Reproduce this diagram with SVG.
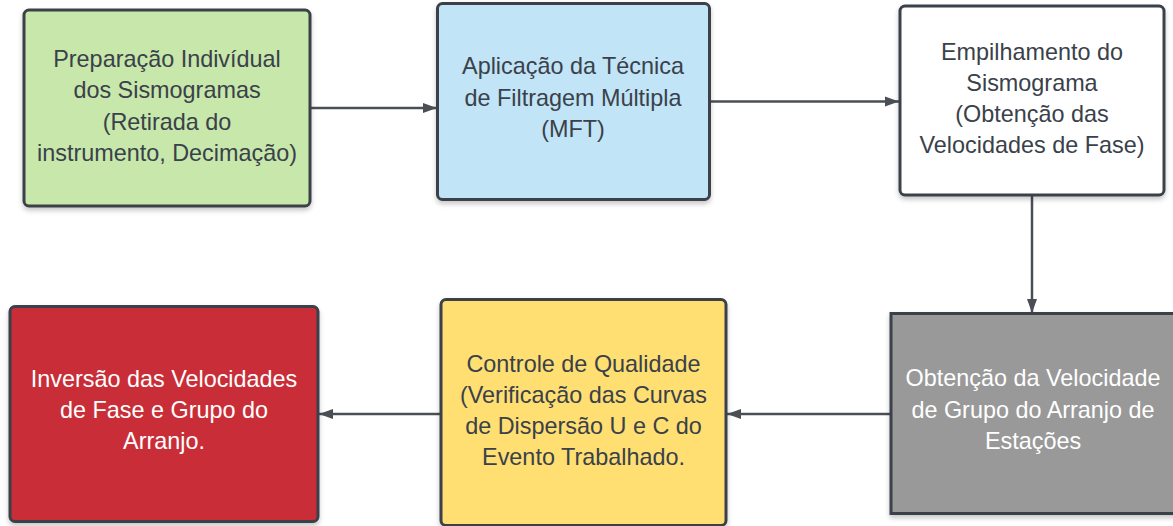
<svg xmlns="http://www.w3.org/2000/svg" width="1173" height="526" viewBox="0 0 1173 526">
<style>
  .box { stroke: #3a414a; stroke-width: 3; }
  .t { font-family: "Liberation Sans", Arial, sans-serif; font-size: 23.4px; text-anchor: middle; fill: #3a414a; }
  .w { fill: #ffffff; }
  .conn { stroke: #4a4f55; stroke-width: 2.5; fill: none; marker-end: url(#arr); }
</style>
<defs>
  <filter id="sh" x="-10%" y="-10%" width="120%" height="130%">
    <feDropShadow dx="0" dy="3" stdDeviation="2.5" flood-color="#000000" flood-opacity="0.22"/>
  </filter>
  <marker id="arr" markerWidth="16" markerHeight="12" refX="14" refY="6" orient="auto" markerUnits="userSpaceOnUse">
    <path d="M0,1 L14,6 L0,11 Z" fill="#4a4f55"/>
  </marker>
</defs>
<rect width="1173" height="526" fill="#ffffff"/>

<g id="connectors">
  <line class="conn" x1="310" y1="108" x2="437" y2="108"/>
  <line class="conn" x1="709" y1="101.5" x2="899" y2="101.5"/>
  <line class="conn" x1="1032" y1="195" x2="1032" y2="313"/>
  <line class="conn" x1="891" y1="414" x2="727" y2="414"/>
  <line class="conn" x1="441" y1="414" x2="319" y2="414"/>
</g>

<g id="node-preparacao">
  <rect class="box" x="24" y="10" width="286" height="196" rx="5" fill="#c7e7ab" filter="url(#sh)"/>
  <text class="t" x="167" y="66.5">Preparação Indivídual</text>
  <text class="t" x="167" y="98">dos Sismogramas</text>
  <text class="t" x="167" y="129.5">(Retirada do</text>
  <text class="t" x="167" y="161">instrumento, Decimação)</text>
</g>

<g id="node-mft">
  <rect class="box" x="437.5" y="3.5" width="272" height="196" rx="5" fill="#c1e4f7" filter="url(#sh)"/>
  <text class="t" x="573" y="74">Aplicação da Técnica</text>
  <text class="t" x="573" y="105.5">de Filtragem Múltipla</text>
  <text class="t" x="573" y="137">(MFT)</text>
</g>

<g id="node-empilhamento">
  <rect class="box" x="900" y="6" width="264" height="189" rx="5" fill="#ffffff" filter="url(#sh)"/>
  <text class="t" x="1032" y="60">Empilhamento do</text>
  <text class="t" x="1032" y="91">Sismograma</text>
  <text class="t" x="1032" y="122">(Obtenção das</text>
  <text class="t" x="1032" y="153">Velocidades de Fase)</text>
</g>

<g id="node-velocidade-grupo">
  <rect class="box" x="891" y="313.5" width="285" height="200" fill="#999999" filter="url(#sh)"/>
  <text class="t w" x="1033" y="386">Obtenção da Velocidade</text>
  <text class="t w" x="1033" y="417.5">de Grupo do Arranjo de</text>
  <text class="t w" x="1033" y="448.5">Estações</text>
</g>

<g id="node-controle">
  <rect class="box" x="441" y="299.5" width="285" height="226" rx="5" fill="#ffdf71" filter="url(#sh)"/>
  <text class="t" x="583.5" y="371.5">Controle de Qualidade</text>
  <text class="t" x="583.5" y="403">(Verificação das Curvas</text>
  <text class="t" x="583.5" y="434">de Dispersão U e C do</text>
  <text class="t" x="583.5" y="465">Evento Trabalhado.</text>
</g>

<g id="node-inversao">
  <rect class="box" x="10" y="306.5" width="308" height="215" rx="5" fill="#c92d39" filter="url(#sh)"/>
  <text class="t w" x="164" y="387">Inversão das Velocidades</text>
  <text class="t w" x="164" y="418">de Fase e Grupo do</text>
  <text class="t w" x="164" y="449">Arranjo.</text>
</g>
</svg>
